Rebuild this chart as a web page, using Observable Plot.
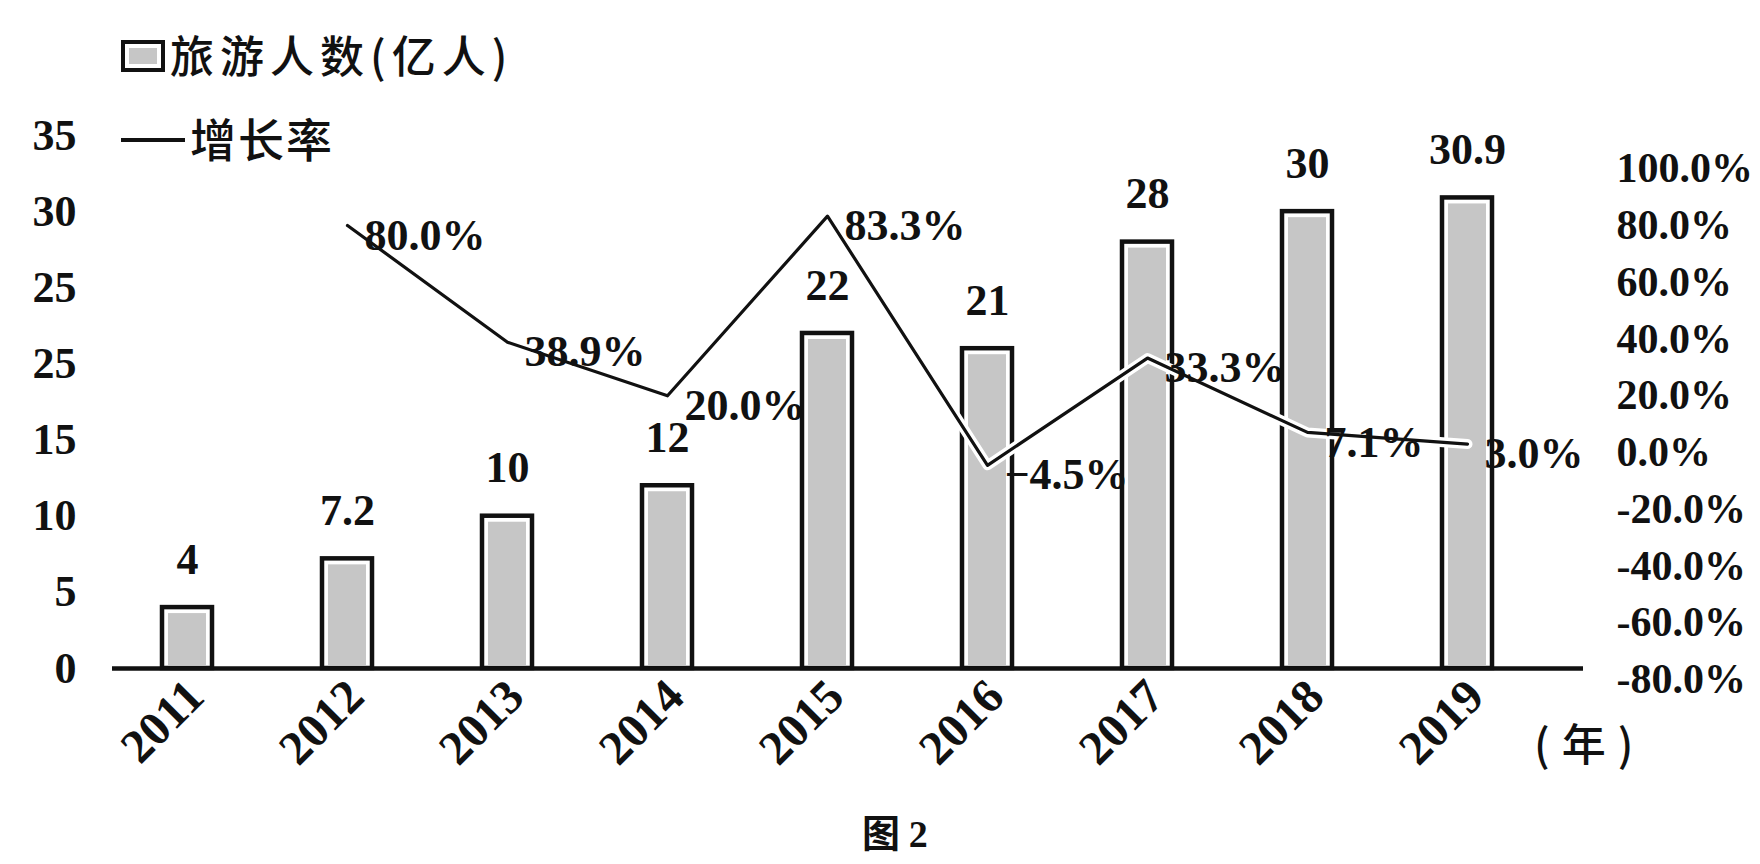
<!DOCTYPE html>
<html>
<head>
<meta charset="utf-8">
<script src="https://cdn.jsdelivr.net/npm/d3@7"></script>
<script src="https://cdn.jsdelivr.net/npm/@observablehq/plot@0.6"></script>
<style>
  html, body { margin: 0; padding: 0; background: #fff; }
  #wrap { position: relative; width: 1760px; height: 864px; overflow: hidden; background: #fff; }
  #wrap svg { position: absolute; left: 0; top: 0; }
  .cjk { position: absolute; font-family: "Noto Sans CJK SC", sans-serif; font-weight: 500; color: #111; white-space: nowrap; line-height: 1; }
  .legbox { position: absolute; left: 121px; top: 40px; width: 36px; height: 24px; border: 4px solid #111; background: #c6c6c6; box-shadow: inset 0 0 0 4px #fff; }
  .legline { position: absolute; left: 121px; top: 138px; width: 64px; height: 4px; background: #111; }
</style>
</head>
<body>
<div id="wrap"></div>
<script>
// ---- data ----
const years = ["2011", "2012", "2013", "2014", "2015", "2016", "2017", "2018", "2019"];
const tourists = [4, 7.2, 10, 12, 22, 21, 28, 30, 30.9];
const touristLabels = ["4", "7.2", "10", "12", "22", "21", "28", "30", "30.9"];
const growth = [null, 80.0, 38.9, 20.0, 83.3, -4.5, 33.3, 7.1, 3.0];
const growthLabels = [null, "80.0%", "38.9%", "20.0%", "83.3%", "\u22124.5%", "33.3%", "7.1%", "3.0%"];
const leftTicks = [0, 5, 10, 15, 20, 25, 30, 35];
const leftTickLabels = ["0", "5", "10", "15", "25", "25", "30", "35"];
const rightTicks = [-80, -60, -40, -20, 0, 20, 40, 60, 80, 100];
const rightTickLabels = ["-80.0%", "-60.0%", "-40.0%", "-20.0%", "0.0%", "20.0%", "40.0%", "60.0%", "80.0%", "100.0%"];

// secondary (right) axis: growth % mapped onto left-axis units
const r0 = 14.18, rk = 0.18634;
const toLeft = p => r0 + p * rk;

const rows = years.map((year, i) => ({year, value: tourists[i], label: touristLabels[i]}));
const lineRows = years.map((year, i) => ({year, rate: growth[i], yl: growth[i] == null ? null : toLeft(growth[i]), label: growthLabels[i]}))
  .filter(d => d.rate != null);

const chart = Plot.plot({
  width: 1760,
  height: 864,
  marginLeft: 112,
  marginRight: 177,
  marginTop: 135,
  marginBottom: 196,
  x: {type: "band", domain: years, paddingInner: 0.69, paddingOuter: 0.425, align: 0.352},
  y: {domain: [0, 35]},
  style: {fontFamily: "'Liberation Serif', 'Times New Roman', serif", fontWeight: "bold", fontSize: "44px", color: "#111", background: "transparent"},
  marks: [
    Plot.barY(rows, {x: "year", y: "value", fill: "white", stroke: "#111", strokeWidth: 4.5}),
    Plot.barY(rows, {x: "year", y: "value", fill: "#c6c6c6", insetLeft: 6, insetRight: 6, insetTop: 6, insetBottom: 3}),
    Plot.ruleY([0], {stroke: "#111", strokeWidth: 4.5}),
    Plot.line(lineRows, {x: "year", y: "yl", stroke: "white", strokeWidth: 10}),
    Plot.line(lineRows, {x: "year", y: "yl", stroke: "#111", strokeWidth: 3.2}),
    Plot.text(rows, {x: "year", y: "value", text: "label", dy: -48}),
    Plot.text(lineRows, {x: "year", y: "yl", text: "label", textAnchor: "start", dx: 17, dy: 10}),
    Plot.axisY(leftTicks, {anchor: "left", tickSize: 0, tickPadding: 36, label: null,
      tickFormat: d => leftTickLabels[leftTicks.indexOf(d)]}),
    Plot.axisY(rightTicks.map(toLeft), {anchor: "right", tickSize: 0, tickPadding: 33, label: null, fontSize: 42,
      tickFormat: d => rightTickLabels[rightTicks.indexOf(Math.round((d - r0) / rk))]}),
    Plot.axisX({tickRotate: -45, tickSize: 0, tickPadding: 20, dx: 8, fontSize: 48, label: null})
  ]
});

const wrap = document.getElementById("wrap");
wrap.appendChild(chart);

// legend & captions (HTML overlays)
const add = (html) => { const d = document.createElement("div"); d.innerHTML = html; wrap.appendChild(d.firstElementChild); };
add('<div class="legbox"></div>');
add('<div class="cjk" style="left:170px; top:32px; font-size:44px; letter-spacing:6px;">旅游人数(亿人)</div>');
add('<div class="legline"></div>');
add('<div class="cjk" style="left:190px; top:114px; font-size:46px; letter-spacing:2px;">增长率</div>');
add('<div class="cjk" style="left:1534px; top:720px; font-size:44px; letter-spacing:12px;">(年)</div>');
add('<div class="cjk" style="left:862px; top:812px; font-size:38px; font-weight:700;">图 <span style="font-family:\'Liberation Serif\',serif;">2</span></div>');
</script>
</body>
</html>
